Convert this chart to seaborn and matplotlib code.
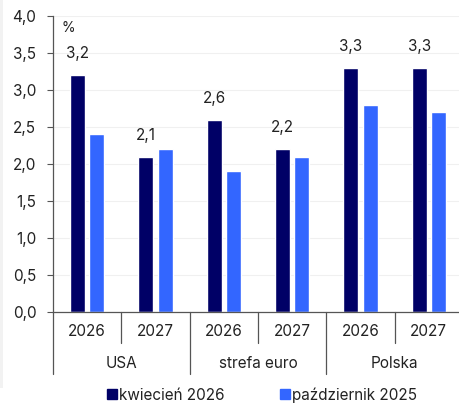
import matplotlib
matplotlib.use("Agg")
import matplotlib.pyplot as plt
import matplotlib.transforms as mtransforms
from matplotlib.patches import Rectangle
from matplotlib.lines import Line2D
import seaborn as sns
import pandas as pd

groups = ["USA", "strefa euro", "Polska"]
years = ["2026", "2027"]
series = ["kwiecień 2026", "październik 2025"]
kwiecien_2026 = [3.2, 2.1, 2.6, 2.2, 3.3, 3.3]
pazdziernik_2025 = [2.4, 2.2, 1.9, 2.1, 2.8, 2.7]
yticks = [0.0, 0.5, 1.0, 1.5, 2.0, 2.5, 3.0, 3.5, 4.0]

colors = {"kwiecień 2026": "#000066", "październik 2025": "#3366ff"}

cats = [f"{g}|{y}" for g in groups for y in years]
df = pd.DataFrame({
    "cat": cats * 2,
    "series": [series[0]] * 6 + [series[1]] * 6,
    "value": kwiecien_2026 + pazdziernik_2025,
})

sns.set_theme(style="white")
plt.rcParams["font.family"] = ["Inter", "DejaVu Sans"]
FS = 11
TC = "#222222"

fig = plt.figure(figsize=(4.59, 4.03), dpi=100)
fig.patches.append(Rectangle((0, 403 - 388), 3, 388, transform=None,
                             facecolor="#f2f2f2", edgecolor="none", zorder=0))
W, H = 459, 403
ax = fig.add_axes([53 / W, (H - 312) / H, 410 / W, 296 / H])

sns.barplot(data=df, x="cat", y="value", hue="series", order=cats,
            hue_order=series, palette=colors, width=0.57, gap=0.23,
            ax=ax, legend=False, saturation=1)

ax.set_xlim(-0.5, 5.5)
ax.set_ylim(0, 4.0)
ax.set_yticks(yticks)
ax.set_yticklabels([f"{v:.1f}".replace(".", ",") for v in yticks], fontsize=FS, color=TC)
ax.yaxis.grid(True, color="#f0f0f0", linewidth=0.8)
ax.set_axisbelow(True)
ax.tick_params(axis="y", left=True, length=4, width=0.8, color="#555555", pad=8)
ax.set_xlabel("")
ax.set_ylabel("")
ax.set_xticks(range(6))
ax.set_xticklabels([])
ax.tick_params(axis="x", bottom=False)
for s in ["top", "right"]:
    ax.spines[s].set_visible(False)
for s in ["left", "bottom"]:
    ax.spines[s].set_color("#555555")
    ax.spines[s].set_linewidth(0.9)

# value labels on dark bars
dark = ax.containers[0]
for rect, v in zip(dark, kwiecien_2026):
    ax.annotate(f"{v:.1f}".replace(".", ","),
                (rect.get_x() + rect.get_width() / 2, v),
                xytext=(0, 10), textcoords="offset points",
                ha="center", va="bottom", fontsize=FS, color=TC)

ax.text(0.02, 0.984, "%", transform=ax.transAxes, fontsize=10, color=TC,
        ha="left", va="top")

# category axis
trans = mtransforms.blended_transform_factory(ax.transData, ax.transAxes)
px = 1 / 296
for i, c in enumerate(cats):
    ax.text(i, -20 * px, c.split("|")[1], transform=trans, ha="center", va="center",
            fontsize=FS, color=TC)
for gi, g in enumerate(groups):
    ax.text(gi * 2 + 0.5, -51 * px, g, transform=trans, ha="center", va="center",
            fontsize=FS, color=TC)
for b in [0.5, 2.5, 4.5]:
    ax.plot([b, b], [0, -31 * px], transform=trans, color="#555555", lw=0.9, clip_on=False)
for b in [-0.5, 1.5, 3.5, 5.5]:
    ax.plot([b, b], [0, -62 * px], transform=trans, color="#555555", lw=0.9, clip_on=False)

handles = [Line2D([], [], marker="s", linestyle="none", markersize=7.5,
                  markerfacecolor=colors[s], markeredgecolor=colors[s]) for s in series]
fig.legend(handles, series, loc="center", bbox_to_anchor=(0.57, (H - 395) / H), ncol=2,
           frameon=False, fontsize=FS, handletextpad=0.05, columnspacing=3.6,
           handlelength=0.8, borderaxespad=0, labelcolor=TC)

fig.savefig("out.png", dpi=100)
